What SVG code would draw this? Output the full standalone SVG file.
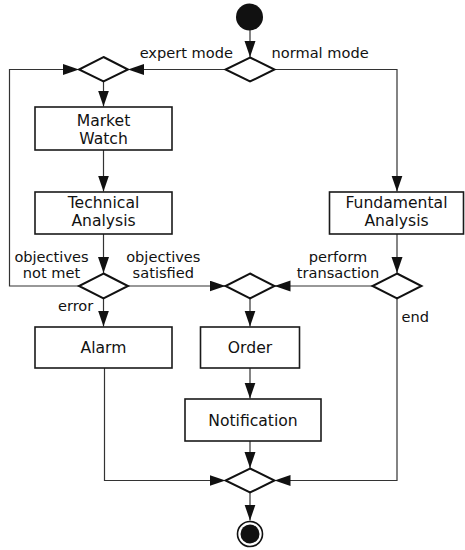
<svg xmlns="http://www.w3.org/2000/svg" width="465" height="550" viewBox="0 0 465 550">
<defs>
<style>
.box{fill:#fff;stroke:#1a1a1a;stroke-width:1.6}
.dia{fill:#fff;stroke:#111;stroke-width:2}
.con{fill:none;stroke:#333;stroke-width:1.2}
.t{font-family:"DejaVu Sans",sans-serif;font-size:15.6px;fill:#111;text-anchor:middle}
.l{font-family:"DejaVu Sans",sans-serif;font-size:14.6px;fill:#111}
</style>
<marker id="ah" markerUnits="userSpaceOnUse" markerWidth="17" markerHeight="12" refX="16" refY="5.5" orient="auto">
<path d="M0,0 L16,5.5 L0,11 Z" fill="#111"/>
</marker>
</defs>
<rect width="465" height="550" fill="#fff"/>
<g id="connectors">
<path class="con" d="M250,30 V57" marker-end="url(#ah)"/>
<path class="con" d="M226,69.5 H128" marker-end="url(#ah)"/>
<path class="con" d="M275,69.5 H397 V191.5" marker-end="url(#ah)"/>
<path class="con" d="M103.5,81.5 V106.5" marker-end="url(#ah)"/>
<path class="con" d="M103.5,150 V191.5" marker-end="url(#ah)"/>
<path class="con" d="M103.5,234 V273" marker-end="url(#ah)"/>
<path class="con" d="M79,286 H9.5 V69.5 H79" marker-end="url(#ah)"/>
<path class="con" d="M128,286 H225.5" marker-end="url(#ah)"/>
<path class="con" d="M103.5,298.5 V326.5" marker-end="url(#ah)"/>
<path class="con" d="M397,234 V273" marker-end="url(#ah)"/>
<path class="con" d="M372.5,286 H274.5" marker-end="url(#ah)"/>
<path class="con" d="M250,298.5 V326.5" marker-end="url(#ah)"/>
<path class="con" d="M397,298.5 V480.5 H274.5" marker-end="url(#ah)"/>
<path class="con" d="M250,368 V398.5" marker-end="url(#ah)"/>
<path class="con" d="M104.5,368 V480.5 H225.5" marker-end="url(#ah)"/>
<path class="con" d="M250,441 V468" marker-end="url(#ah)"/>
<path class="con" d="M250,493 V520.5" marker-end="url(#ah)"/>
</g>
<g id="start"><circle cx="249.5" cy="17" r="13.5" fill="#111"/></g>
<g id="d1"><path class="dia" d="M250,57.5 L274.5,69.5 L250,81.5 L225.5,69.5 Z"/></g>
<g id="d2"><path class="dia" d="M103.5,57 L128,69.5 L103.5,81.5 L79,69.5 Z"/></g>
<g id="market-watch"><rect class="box" x="35" y="107" width="137" height="43"/>
<text class="t" x="103.5" y="125.5">Market</text><text class="t" x="103.5" y="143.5">Watch</text></g>
<g id="technical-analysis"><rect class="box" x="35" y="192" width="137" height="42"/>
<text class="t" x="103.5" y="208">Technical</text><text class="t" x="103.5" y="226">Analysis</text></g>
<g id="fundamental-analysis"><rect class="box" x="329.5" y="192" width="134" height="42"/>
<text class="t" x="396.5" y="208">Fundamental</text><text class="t" x="396.5" y="226">Analysis</text></g>
<g id="d3"><path class="dia" d="M103.5,273.5 L128,286 L103.5,298.5 L79,286 Z"/></g>
<g id="d4"><path class="dia" d="M250,273.5 L274.5,286 L250,298.5 L225.5,286 Z"/></g>
<g id="d5"><path class="dia" d="M397,273.5 L421.5,286 L397,298.5 L372.5,286 Z"/></g>
<g id="alarm"><rect class="box" x="35" y="327" width="137" height="41"/>
<text class="t" x="103.5" y="353">Alarm</text></g>
<g id="order"><rect class="box" x="200.5" y="327" width="99" height="41"/>
<text class="t" x="250" y="353">Order</text></g>
<g id="notification"><rect class="box" x="185" y="399" width="136" height="42"/>
<text class="t" x="253" y="426">Notification</text></g>
<g id="d6"><path class="dia" d="M250,468.5 L274.5,480.5 L250,492.5 L225.5,480.5 Z"/></g>
<g id="end-node"><circle cx="250" cy="534" r="12.5" fill="#fff" stroke="#111" stroke-width="1.6"/><circle cx="250" cy="534" r="9.5" fill="#111"/></g>
<g id="labels">
<text class="l" x="233" y="57.5" text-anchor="end">expert mode</text>
<text class="l" x="271.5" y="57.5">normal mode</text>
<text class="l" x="51.5" y="261.5" text-anchor="middle">objectives</text>
<text class="l" x="51.5" y="278" text-anchor="middle">not met</text>
<text class="l" x="163.3" y="261.5" text-anchor="middle">objectives</text>
<text class="l" x="163.3" y="278" text-anchor="middle">satisfied</text>
<text class="l" x="338" y="261.5" text-anchor="middle">perform</text>
<text class="l" x="338" y="278" text-anchor="middle">transaction</text>
<text class="l" x="93.3" y="311" text-anchor="end">error</text>
<text class="l" x="401.5" y="322">end</text>
</g>
</svg>
